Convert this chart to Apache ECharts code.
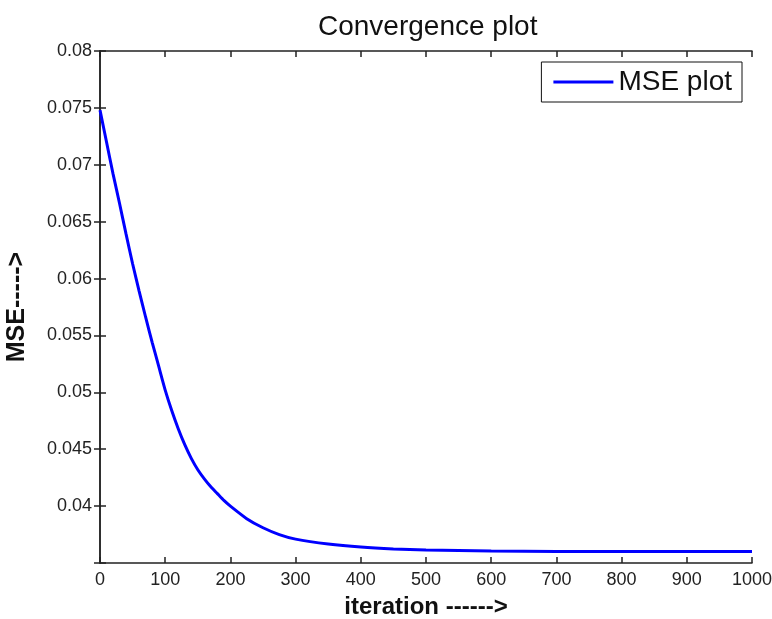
<!DOCTYPE html>
<html>
<head>
<meta charset="utf-8">
<script src="https://cdn.jsdelivr.net/npm/echarts@6/dist/echarts.min.js"></script>
<style>
  html, body { margin: 0; padding: 0; background: #fff; }
  #main { width: 772px; height: 619px; }
</style>
</head>
<body>
<div id="main"></div>
<script>
// iteration vs MSE
var iterations = [0, 10, 20, 30, 40, 50, 60, 70, 80, 90, 100, 110, 120, 130, 140, 150, 160,
                  170, 180, 190, 200, 225, 250, 275, 300, 350, 400, 450, 500, 600, 700,
                  800, 900, 1000];
var mseValues = [0.0748, 0.0720, 0.0692, 0.0666, 0.0639, 0.0613, 0.0589, 0.0566, 0.0544, 0.0523,
                 0.0502, 0.0484, 0.0468, 0.0454, 0.0442, 0.0432, 0.0424,
                 0.0417, 0.0411, 0.0405, 0.0400, 0.0389, 0.0381, 0.0375, 0.0371, 0.03667,
                 0.0364, 0.03624, 0.03615, 0.03605, 0.03601, 0.0360, 0.0360, 0.0360];
var yTicks = [0.04, 0.045, 0.05, 0.055, 0.06, 0.065, 0.07, 0.075, 0.08];

var font = 'Liberation Sans, Arial, sans-serif';
var chart = echarts.init(document.getElementById('main'));

var lineData = iterations.map(function (x, i) { return [x, mseValues[i]]; });

var axisLine = { lineStyle: { color: '#222', width: 1.5 } };
var tick = { inside: true, length: 6, lineStyle: { color: '#222', width: 1.5 } };

option = {
    animation: false,
    backgroundColor: '#fff',
    title: {
        text: 'Convergence plot',
        left: 313,
        top: 8,
        textStyle: { fontFamily: font, fontSize: 28, fontWeight: 'normal', color: '#111' }
    },
    legend: {
        right: 30,
        top: 62,
        padding: [6, 10, 6, 12],
        itemWidth: 60,
        itemHeight: 3,
        icon: 'rect',
        itemGap: 0,
        backgroundColor: '#fff',
        borderColor: '#111',
        borderWidth: 1,
        borderRadius: 0,
        textStyle: { fontFamily: font, fontSize: 28, color: '#111' },
        data: ['MSE plot']
    },
    grid: { left: 100, right: 20, top: 51, bottom: 56, outerBoundsMode: 'none' },
    xAxis: [{
        type: 'value',
        min: 0, max: 1000, interval: 100,
        name: 'iteration ------>',
        nameLocation: 'middle',
        nameGap: 32,
        nameTextStyle: { fontFamily: font, fontSize: 24, fontWeight: 'bold', color: '#111' },
        axisLine: axisLine,
        axisTick: tick,
        splitLine: { show: false },
        axisLabel: {
            fontFamily: font, fontSize: 18, color: '#222', margin: 8,
            formatter: function (v) { return String(v); }
        }
    }, {
        type: 'value', position: 'top',
        min: 0, max: 1000, interval: 100,
        axisLine: axisLine, axisTick: tick,
        splitLine: { show: false },
        axisLabel: { show: false }
    }],
    yAxis: [{
        type: 'value',
        min: 0.035, max: 0.08, interval: 0.005,
        name: 'MSE----->',
        nameLocation: 'middle',
        nameGap: 70,
        nameTextStyle: { fontFamily: font, fontSize: 25, fontWeight: 'bold', color: '#111' },
        axisLine: axisLine,
        axisTick: tick,
        splitLine: { show: false },
        axisLabel: {
            fontFamily: font, fontSize: 18, color: '#222', margin: 8,
            formatter: function (v) {
                var hit = yTicks.filter(function (t) { return Math.abs(t - v) < 1e-9; });
                return hit.length ? String(hit[0]) : '';
            }
        }
    }, {
        type: 'value', position: 'right',
        min: 0.035, max: 0.08, interval: 0.005,
        axisLine: axisLine, axisTick: tick,
        splitLine: { show: false },
        axisLabel: { show: false }
    }],
    series: [{
        name: 'MSE plot',
        type: 'line',
        data: lineData,
        showSymbol: false,
        symbol: 'none',
        smooth: 0.2,
        lineStyle: { color: '#0000ff', width: 3 },
        itemStyle: { color: '#0000ff' }
    }]
};
chart.setOption(option);
</script>
</body>
</html>
